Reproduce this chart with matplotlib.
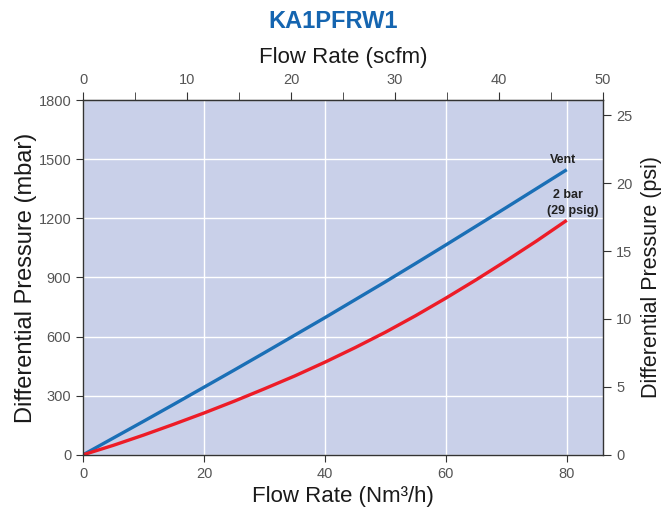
import matplotlib
matplotlib.use('Agg')
import matplotlib.pyplot as plt

plt.rcParams['font.family'] = ['Liberation Sans', 'DejaVu Sans']

# 数据
flow_nm3h = [0, 5, 10, 15, 20, 25, 30, 35, 40, 45, 50, 55, 60, 65, 70, 75, 80]
vent_mbar = [0, 85, 170, 256, 343, 430, 518, 607, 696, 787, 878, 971, 1065, 1160, 1255, 1351, 1447]
bar2_mbar = [0, 48, 100, 155, 212, 272, 335, 400, 470, 544, 622, 706, 795, 888, 985, 1085, 1190]

x_ticks = [0, 20, 40, 60, 80]
y_ticks = [0, 300, 600, 900, 1200, 1500, 1800]
psi_ticks = [0, 5, 10, 15, 20, 25]
scfm_ticks = [0, 10, 20, 30, 40, 50]
scfm_minor = [5, 15, 25, 35, 45]

NM3H_PER_SCFM = 86.0 / 50
PSI_PER_MBAR = 0.0145038

bg = '#c9d0e9'
blue = '#1a6fb6'
red = '#ed1c27'
tick_col = '#555555'
lab_col = '#1a1a1a'

fig = plt.figure(figsize=(6.7, 5.11), dpi=100)
ax = fig.add_axes([0.124, 0.11, 0.776, 0.694])
ax.set_facecolor(bg)

ax.plot(flow_nm3h, vent_mbar, color=blue, lw=2.4, solid_capstyle='butt')
ax.plot(flow_nm3h, bar2_mbar, color=red, lw=2.4, solid_capstyle='butt')

ax.set_xlim(0, 86)
ax.set_ylim(0, 1800)
ax.set_xticks(x_ticks)
ax.set_yticks(y_ticks)
ax.grid(True, color='white', lw=1)
ax.set_axisbelow(True)
for s in ax.spines.values():
    s.set_color('#333333')
    s.set_linewidth(1)
ax.tick_params(axis='both', colors='#333333', labelcolor=tick_col, labelsize=10.5, length=5, direction='out')

ax.set_xlabel('Flow Rate (Nm³/h)', fontsize=16, color=lab_col, labelpad=4)
ax.set_ylabel('Differential Pressure (mbar)', fontsize=17, color=lab_col, labelpad=1)

# 顶部轴 scfm
top = ax.secondary_xaxis('top', functions=(lambda x: x / NM3H_PER_SCFM, lambda s: s * NM3H_PER_SCFM))
top.set_xticks(scfm_ticks)
top.set_xticks(scfm_minor, minor=True)
top.tick_params(which='both', colors='#333333', labelcolor=tick_col, labelsize=10.5, length=6)
top.set_xlabel('Flow Rate (scfm)', fontsize=16, color=lab_col, labelpad=7)

# 右侧轴 psi
right = ax.secondary_yaxis('right', functions=(lambda m: m * PSI_PER_MBAR, lambda p: p / PSI_PER_MBAR))
right.spines['right'].set_visible(False)
right.set_yticks(psi_ticks)
right.tick_params(colors='#333333', labelcolor=tick_col, labelsize=10.5, length=6)
right.set_ylabel('Differential Pressure (psi)', fontsize=15.5, color=lab_col, labelpad=6)

ax.text(79.4, 1497, 'Vent', ha='center', va='center', fontsize=9, fontweight='bold', color='#222222')
ax.text(80.2, 1321, '2 bar', ha='center', va='center', fontsize=9, fontweight='bold', color='#222222')
ax.text(81.0, 1235, '(29 psig)', ha='center', va='center', fontsize=9, fontweight='bold', color='#222222')

fig.text(0.497, 0.958, 'KA1PFRW1', ha='center', va='center', fontsize=17, fontweight='bold', color='#1565b0')

fig.savefig('out.png', dpi=100)
